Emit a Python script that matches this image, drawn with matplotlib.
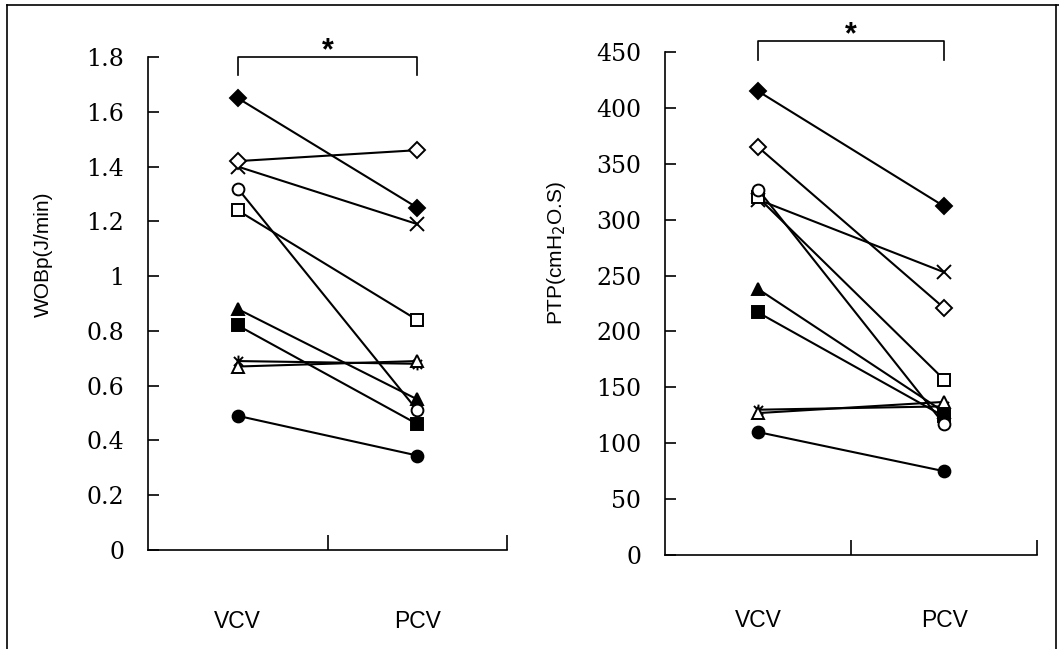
import matplotlib
matplotlib.use("Agg")
from matplotlib import pyplot as plt
from matplotlib.path import Path
from matplotlib.lines import Line2D

# groups on the x axis
groups = ["VCV", "PCV"]

# one marker per subject (Excel style)
subject_markers = ["D", "s", "^", "x", "star", "o", "D", "s", "^", "o"]
subject_filled = [True, True, True, True, True, True, False, False, False, False]

# WOBp (J/min), VCV then PCV
wob_vcv = [1.65, 0.82, 0.88, 1.40, 0.69, 0.49, 1.42, 1.24, 0.67, 1.32]
wob_pcv = [1.25, 0.46, 0.55, 1.19, 0.68, 0.345, 1.46, 0.84, 0.69, 0.51]

# PTP (cmH2O.S), VCV then PCV
ptp_vcv = [415, 217, 238, 318, 130, 110, 365, 320, 127, 327]
ptp_pcv = [312, 124, 128, 253, 133, 75, 221, 157, 137, 117]

wob_ticks = [0, 0.2, 0.4, 0.6, 0.8, 1.0, 1.2, 1.4, 1.6, 1.8]
wob_ticklabels = ["0", "0.2", "0.4", "0.6", "0.8", "1", "1.2", "1.4", "1.6", "1.8"]
ptp_ticks = [0, 50, 100, 150, 200, 250, 300, 350, 400, 450]

# asterisk marker: x with a vertical bar
star_path = Path([(-1, -1), (1, 1), (-1, 1), (1, -1), (0, -1.3), (0, 1.3)],
                 [Path.MOVETO, Path.LINETO, Path.MOVETO, Path.LINETO, Path.MOVETO, Path.LINETO])

serif = "DejaVu Serif"
sans = "Liberation Sans"


def draw_panel(ax, vcv, pcv, ylim, yticks, yticklabels, ylabel, label_pad):
    xs = range(len(groups))
    for i in range(len(vcv)):
        m = subject_markers[i]
        if m == "star":
            m = star_path
        face = "black" if subject_filled[i] else "white"
        size = 8.5
        if m == "x":
            size = 9.5
        ax.plot(xs, [vcv[i], pcv[i]], color="black", lw=1.5, marker=m,
                markersize=size, markerfacecolor=face, markeredgecolor="black",
                markeredgewidth=1.4)

    ax.set_xlim(-0.5, 1.5)
    ax.set_ylim(*ylim)
    for s in ["top", "right"]:
        ax.spines[s].set_visible(False)
    for s in ["left", "bottom"]:
        ax.spines[s].set_linewidth(1.2)

    ax.set_yticks(yticks)
    ax.set_yticklabels(yticklabels, fontfamily=serif, fontsize=17)
    ax.tick_params(axis="y", direction="in", length=8, width=1.2, pad=17)

    ax.set_xticks([0, 1])
    ax.set_xticklabels(groups, fontfamily=sans, fontsize=16.5)
    ax.tick_params(axis="x", which="major", length=0, pad=label_pad)
    ax.set_xticks([0.5, 1.5], minor=True)
    ax.tick_params(axis="x", which="minor", direction="in", length=11, width=1.2)

    ax.set_ylabel(ylabel, fontfamily=sans, fontsize=15)


fig = plt.figure(figsize=(10.59, 6.49), dpi=100)

ax1 = fig.add_axes([0.1398, 0.1525, 0.339, 0.7596])
draw_panel(ax1, wob_vcv, wob_pcv, (0, 1.8), wob_ticks, wob_ticklabels,
           "WOBp(J/min)", 43)
ax1.yaxis.set_label_coords(-0.265, 0.6)

ax2 = fig.add_axes([0.628, 0.1448, 0.3513, 0.775])
draw_panel(ax2, ptp_vcv, ptp_pcv, (0, 450), ptp_ticks, [str(t) for t in ptp_ticks],
           "PTP(cmH$_2$O.S)", 39)
ax2.yaxis.set_label_coords(-0.26, 0.6)

# significance brackets
def bracket(ax, y_top, y_leg):
    ax.plot([0, 0, 1, 1], [y_leg, y_top, y_top, y_leg], color="black", lw=1.2,
            clip_on=False)
    ax.annotate("*", (0.5, y_top), xytext=(0, 4), textcoords="offset points",
                ha="center", va="center", fontsize=22, fontweight="bold",
                fontfamily=sans, annotation_clip=False)

bracket(ax1, 1.8, 1.735)
bracket(ax2, 460, 443)

# outer frame of the figure
frame_kw = dict(color="black", lw=1.2, transform=fig.transFigure)
fig.add_artist(Line2D([7 / 1059, 7 / 1059], [0, 1 - 5 / 649], **frame_kw))
fig.add_artist(Line2D([7 / 1059, 1], [1 - 5 / 649, 1 - 5 / 649], **frame_kw))
fig.add_artist(Line2D([1056 / 1059, 1056 / 1059], [0, 1 - 5 / 649], **frame_kw))

fig.savefig("out.png", dpi=100)
